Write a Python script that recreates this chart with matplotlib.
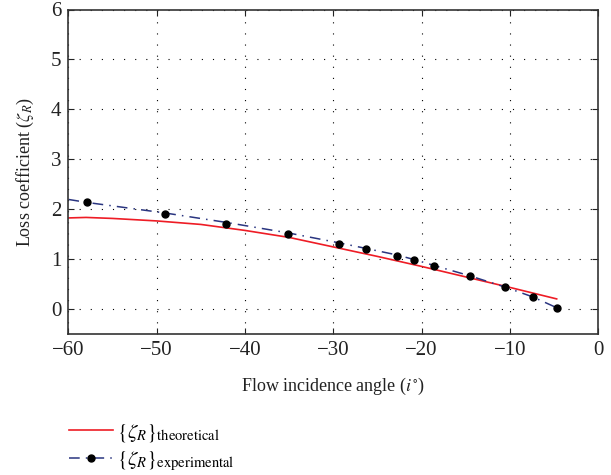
import numpy as np
import matplotlib
matplotlib.use('Agg')
import matplotlib.pyplot as plt

# Values.
theory_angle = [-60, -58, -55, -50, -45, -40, -35, -30, -25, -20, -15, -10, -4.7]
theory_loss = [1.83, 1.84, 1.82, 1.77, 1.70, 1.58, 1.44, 1.25, 1.06, 0.86, 0.65, 0.44, 0.21]

exp_angle = [-57.9, -49.1, -42.1, -35.1, -29.3, -26.3, -22.8, -20.9, -18.6, -14.5, -10.6, -7.4, -4.65]
exp_loss = [2.14, 1.91, 1.71, 1.50, 1.31, 1.20, 1.07, 0.99, 0.87, 0.67, 0.45, 0.24, 0.03]
# dash-dot curve drawn through the experiment, starting at the left edge
fit_angle = [-60, -57.9, -49.1, -42.1, -35.1, -29.3, -26.3, -22.8, -20.9, -18.6, -14.5, -10.6, -7.4, -4.65]
fit_loss = [2.20, 2.14, 1.93, 1.74, 1.53, 1.33, 1.22, 1.09, 1.00, 0.88, 0.67, 0.45, 0.25, 0.03]

xticks = [-60, -50, -40, -30, -20, -10, 0]
yticks = [0, 1, 2, 3, 4, 5, 6]

plt.rcParams['font.family'] = ['Liberation Serif', 'DejaVu Serif']
plt.rcParams['mathtext.fontset'] = 'stix'

fig = plt.figure(figsize=(6.11, 4.75), dpi=100)
ax = fig.add_axes([0.112, 0.296, 0.867, 0.684])

dashdot = (0, (7, 4, 1, 4))
red, = ax.plot(theory_angle, theory_loss, color='#ee1c25', lw=1.2)
ax.plot(fit_angle, fit_loss, color='#2a3580', lw=1.1, ls=dashdot)
ax.plot(exp_angle, exp_loss, 'o', color='black', ms=5, ls='none')
# proxy handle for the legend: dash-dot line with a marker
exp_handle, = ax.plot([], [], color='#2a3580', lw=1.1, ls=dashdot,
                      marker='o', mfc='black', mec='black', ms=5)

ax.set_xlim(-60, 0)
ax.set_ylim(-0.5, 6)
ax.set_xticks(xticks)
ax.set_yticks(yticks)
ax.set_xticklabels(['\u2212%d' % -t if t < 0 else str(t) for t in xticks])
ax.tick_params(direction='in', top=True, right=True, length=4, width=0.8,
               labelsize=15, colors='#222222', pad=5)
ax.grid(True, color='black', ls=(0, (1, 9)), lw=0.8)
for s in ax.spines.values():
    s.set_linewidth(1.2)
    s.set_color('#333333')

ax.set_xlabel(r'Flow incidence angle ($i^{\circ}$)', fontsize=13, color='#222222', labelpad=11)
ax.set_ylabel(r'Loss coefficient ($\zeta_R$)', fontsize=13, color='#222222', labelpad=11)

fig.legend([red, exp_handle],
           [r'$\{\zeta_R\}_{\rm theoretical}$', r'$\{\zeta_R\}_{\rm experimental}$'],
           loc='upper left', bbox_to_anchor=(0.1, 0.13), frameon=False,
           fontsize=15, handlelength=2.1, handletextpad=0.2, labelspacing=0.3,
           borderaxespad=0)

fig.savefig('out.png', dpi=100)
